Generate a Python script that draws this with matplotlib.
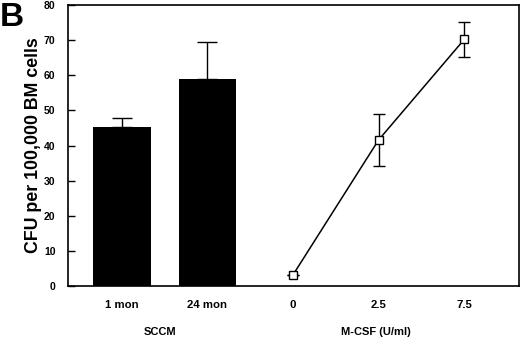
import matplotlib
matplotlib.use("Agg")
import matplotlib.pyplot as plt

plt.rcParams['font.family'] = ['Liberation Sans', 'DejaVu Sans']
plt.rcParams['font.weight'] = 'bold'

bar_labels = ["1 mon", "24 mon"]
bar_values = [45.3, 59.0]
bar_err_up = [2.6, 10.4]

line_labels = ["0", "2.5", "7.5"]
line_values = [3.2, 41.6, 70.2]
line_err = [0.0, 7.4, 5.0]

y_ticks = [0, 10, 20, 30, 40, 50, 60, 70, 80]

fig = plt.figure(figsize=(5.2, 3.4), dpi=100)
ax = fig.add_axes([68/520, 54/340, 451/520, 281/340])

bx = list(range(len(bar_labels)))
lx = [len(bar_labels) + i for i in range(len(line_labels))]

ax.bar(bx, bar_values, width=0.67, color='black', zorder=2)
ax.errorbar(bx, bar_values, yerr=[[0]*len(bar_values), bar_err_up], fmt='none',
            ecolor='black', elinewidth=1.0, capsize=7.5, capthick=1.0, zorder=1)

ax.errorbar(lx, line_values, yerr=line_err, fmt='-', color='black', lw=1.1,
            elinewidth=1.0, capsize=4, capthick=1.0, zorder=3)
ax.plot(lx, line_values, 's', ms=6, mfc='white', mec='black', mew=1.0, zorder=4)

ax.set_xlim(-0.63, 4.64)
ax.set_ylim(0, 80)
ax.set_yticks(y_ticks)
ax.set_xticks(bx + lx)
ax.set_xticklabels(bar_labels + line_labels)
ax.tick_params(axis='x', length=0, labelsize=8.2, pad=10)
ax.tick_params(axis='y', direction='in', length=5, width=1.0, labelsize=7.5, pad=9)
for s in ax.spines.values():
    s.set_linewidth(1.2)

ax.set_ylabel("CFU per 100,000 BM cells", fontsize=12.8, fontweight='bold', labelpad=1)

fig.text(160/520, 1 - 332/340, "SCCM", ha='center', va='center', fontsize=8, fontweight='bold')
fig.text(376/520, 1 - 332/340, "M-CSF (U/ml)", ha='center', va='center', fontsize=8, fontweight='bold')
fig.text(0.0, 1 - 17/340, "B", ha='left', va='center', fontsize=24, fontweight='bold')

fig.savefig("out.png", dpi=100)
